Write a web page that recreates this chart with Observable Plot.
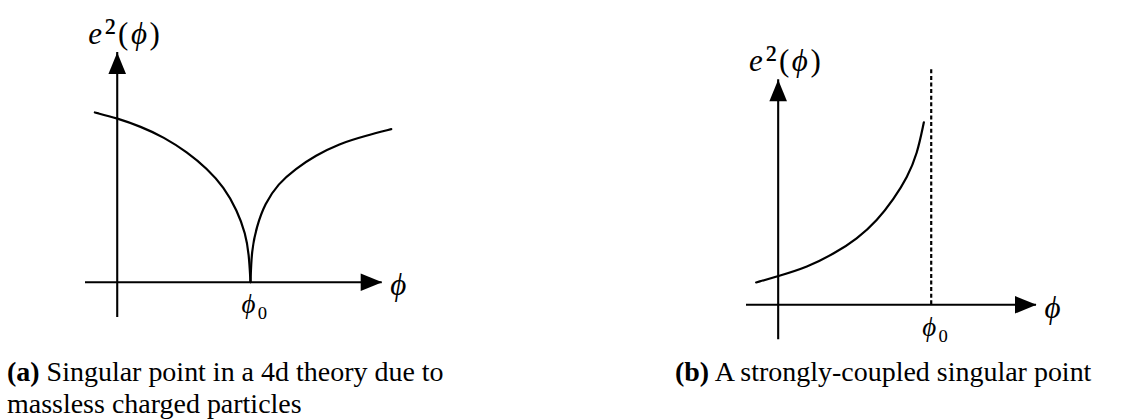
<!DOCTYPE html>
<html>
<head>
<meta charset="utf-8">
<script src="https://cdn.jsdelivr.net/npm/d3@7"></script>
<script src="https://cdn.jsdelivr.net/npm/@observablehq/plot@0.6"></script>
<style>
  html, body { margin: 0; padding: 0; background: #fff; }
  #fig { position: relative; width: 1123px; height: 419px; overflow: hidden;
         font-family: "Liberation Serif", "DejaVu Serif", serif; color: #000; }
  .panel { position: absolute; top: 0; }
  .cap { position: absolute; white-space: nowrap; }
  .cap b { font-weight: bold; }
</style>
</head>
<body>
<div id="fig"></div>
<script>
// ---------- Data ----------
// Panel (a): e^2(phi) vanishes at phi0 with vertical tangent on both sides
const phiA_left  = [-0.168, 0, 0.175, 0.350, 0.525, 0.675, 0.800, 0.900, 0.963, 0.988, 1.0];
const e2A_left   = [1.273, 1.230, 1.168, 1.088, 0.975, 0.851, 0.713, 0.538, 0.363, 0.213, 0];
const phiA_right = [1.0, 1.008, 1.045, 1.107, 1.207, 1.338, 1.488, 1.663, 1.863, 2.056];
const e2A_right  = [0, 0.238, 0.413, 0.588, 0.738, 0.851, 0.950, 1.038, 1.098, 1.148];
const axisA_phi  = [-0.238, 1.988];   // extent of the phi axis (tip of arrow)
const axisA_e2   = [-0.265, 1.723];   // extent of the e^2 axis (tip of arrow)
const phi0A      = [1];

// Panel (b): e^2(phi) blows up approaching phi0
const phiB       = [-0.144, 0, 0.190, 0.364, 0.516, 0.647, 0.756, 0.844, 0.909, 0.952];
const e2B        = [0.146, 0.187, 0.246, 0.333, 0.431, 0.551, 0.693, 0.834, 0.987, 1.193];
const axisB_phi  = [-0.207, 1.688];
const axisB_e2   = [-0.229, 1.471];
const phi0B      = [1];
const asymptoteB = [0, 1.549];        // dashed line from the axis up to here

// Labels
const yLabel   = "e²(ϕ)";
const xLabel   = "ϕ";
const phi0Text = "ϕ₀";
const captionA = ["(a)", "Singular point in a 4d theory due to", "massless charged particles"];
const captionB = ["(b)", "A strongly-coupled singular point"];

// ---------- Helpers ----------
const FONT = "Liberation Serif, DejaVu Serif, serif";
const pts = (xs, ys) => xs.map((x, i) => ({phi: x, e2: ys[i]}));
const arrowUp = {draw(ctx) { ctx.moveTo(0, 0); ctx.lineTo(8.8, 21.5); ctx.lineTo(-8.8, 21.5); ctx.closePath(); }};
const arrowRight = {draw(ctx) { ctx.moveTo(0, 0); ctx.lineTo(-21.5, -8.8); ctx.lineTo(-21.5, 8.8); ctx.closePath(); }};

function richMath(svg) {
  const NS = "http://www.w3.org/2000/svg";
  svg.querySelectorAll("text").forEach(t => {
    const s = t.textContent;
    let parts, ls;
    if (s === yLabel) { parts = [["e", true, 1], ["²", false, 1.2], ["(", false, 1], ["ϕ", true, 1], [")", false, 1]]; ls = 2.5; }
    else if (s === phi0Text) { parts = [["ϕ", true, 1], ["₀", false, 1.15]]; ls = 1.5; }
    else if (s === xLabel) { parts = [["ϕ", true, 1]]; ls = 0; }
    else return;
    while (t.firstChild) t.removeChild(t.firstChild);
    for (const [str, it, sc] of parts) {
      const ts = document.createElementNS(NS, "tspan");
      ts.textContent = str;
      ts.setAttribute("font-style", it ? "italic" : "normal");
      if (sc !== 1) ts.setAttribute("font-size", sc + "em");
      t.appendChild(ts);
    }
    if (ls) t.setAttribute("letter-spacing", ls);
  });
}

function panel({width, height, margins, xDom, yDom, curves, phi0, asym}) {
  const [mt, mr, mb, ml] = margins;
  const marks = [
    Plot.ruleY([0], {stroke: "black", strokeWidth: 2.1}),
    Plot.ruleX([0], {stroke: "black", strokeWidth: 2.1}),
    Plot.dot([{phi: xDom[1], e2: 0}], {x: "phi", y: "e2", symbol: arrowRight, fill: "black", stroke: "none"}),
    Plot.dot([{phi: 0, e2: yDom[1]}], {x: "phi", y: "e2", symbol: arrowUp, fill: "black", stroke: "none"}),
    ...curves.map(c => Plot.line(c, {x: "phi", y: "e2", curve: "basis", stroke: "black", strokeWidth: 2.2})),
    Plot.text([{phi: xDom[1], e2: 0}], {x: "phi", y: "e2", text: () => xLabel, textAnchor: "start", lineAnchor: "middle",
      dx: 8, dy: 3, fontSize: 31, fontFamily: FONT, fill: "black"}),
    Plot.text([{phi: 0, e2: yDom[1]}], {x: "phi", y: "e2", text: () => yLabel, textAnchor: "middle", lineAnchor: "bottom",
      dx: 8, dy: -9, fontSize: 31, fontFamily: FONT, fill: "black"}),
    Plot.text([{phi: phi0[0], e2: 0}], {x: "phi", y: "e2", text: () => phi0Text, textAnchor: "middle", lineAnchor: "bottom",
      dx: 5, dy: 31, fontSize: 27, fontFamily: FONT, fill: "black"})
  ];
  if (asym) {
    marks.push(Plot.ruleX(phi0, {y1: asym[0], y2: asym[1], stroke: "black", strokeWidth: 2.2, strokeDasharray: "4,2.6"}));
  }
  const svg = Plot.plot({
    width, height,
    marginTop: mt, marginRight: mr, marginBottom: mb, marginLeft: ml,
    x: {domain: xDom, axis: null},
    y: {domain: yDom, axis: null},
    marks
  });
  richMath(svg);
  return svg;
}

// ---------- Build ----------
const fig = document.getElementById("fig");

const svgA = panel({
  width: 560, height: 340, margins: [52, 178.3, 23, 85],
  xDom: axisA_phi, yDom: axisA_e2,
  curves: [pts(phiA_left, e2A_left), pts(phiA_right, e2A_right)],
  phi0: phi0A, asym: null
});
svgA.classList.add("panel"); svgA.style.left = "0px";
fig.appendChild(svgA);

const svgB = panel({
  width: 563, height: 345, margins: [79.3, 87, 5.7, 186],
  xDom: axisB_phi, yDom: axisB_e2,
  curves: [pts(phiB, e2B)],
  phi0: phi0B, asym: asymptoteB
});
svgB.classList.add("panel"); svgB.style.left = "560px";
fig.appendChild(svgB);

// Captions: fit font size to the reference's text widths
function makeLine(label, text) {
  const d = document.createElement("div");
  d.className = "cap";
  const b = document.createElement("b"); b.textContent = label;
  d.appendChild(b);
  d.appendChild(document.createTextNode(" " + text));
  return d;
}
function fitSize(el, target) {
  el.style.fontSize = "100px";
  fig.appendChild(el);
  const w = el.getBoundingClientRect().width;
  return 100 * target / w;
}
const capB = makeLine(captionB[0], captionB[1]);
const sB = fitSize(capB, 403);
const capA = makeLine(captionA[0], captionA[1]);
const sA = fitSize(capA, 451);
const s = (sA + sB) / 2;

const L = 33;
function place(el, left, baseline) {
  el.style.fontSize = s + "px";
  el.style.lineHeight = L + "px";
  el.style.left = left + "px";
  el.style.top = (baseline - L / 2 - 0.3375 * s) + "px";
}
place(capA, 7, 381);
place(capB, 675, 381);
const capA2 = document.createElement("div");
capA2.className = "cap";
capA2.textContent = captionA[2];
fig.appendChild(capA2);
place(capA2, 7, 413);
</script>
</body>
</html>
